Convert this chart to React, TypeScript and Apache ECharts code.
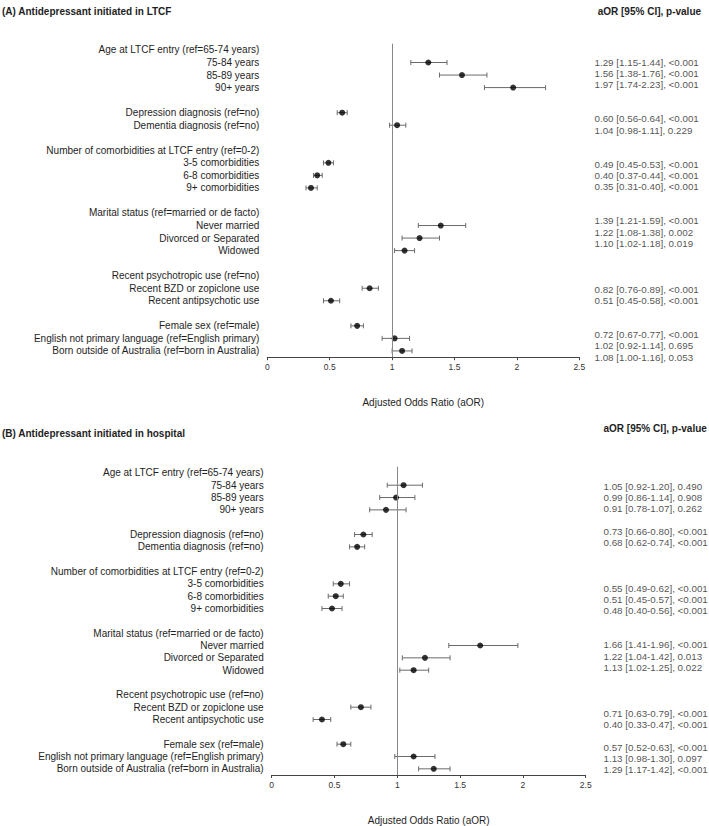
import React, { useEffect, useRef } from "react";
import * as echarts from "echarts";

const FONT = "'Liberation Sans', Arial, Helvetica, sans-serif";

const rowLabels: string[] = [
  "Age at LTCF entry (ref=65-74 years)",
  "75-84 years",
  "85-89 years",
  "90+ years",
  "",
  "Depression diagnosis (ref=no)",
  "Dementia diagnosis (ref=no)",
  "",
  "Number of comorbidities at LTCF entry (ref=0-2)",
  "3-5 comorbidities",
  "6-8 comorbidities",
  "9+ comorbidities",
  "",
  "Marital status (ref=married or de facto)",
  "Never married",
  "Divorced or Separated",
  "Widowed",
  "",
  "Recent psychotropic use (ref=no)",
  "Recent BZD or zopiclone use",
  "Recent antipsychotic use",
  "",
  "Female sex (ref=male)",
  "English not primary language (ref=English primary)",
  "Born outside of Australia (ref=born in Australia)",
];

const estimateRows: number[] = [1, 2, 3, 5, 6, 9, 10, 11, 14, 15, 16, 19, 20, 22, 23, 24];

const xTicks: number[] = [0, 0.5, 1, 1.5, 2, 2.5];

// Panel A: initiated in LTCF
const aorA: number[] = [1.29, 1.56, 1.97, 0.6, 1.04, 0.49, 0.4, 0.35, 1.39, 1.22, 1.1, 0.82, 0.51, 0.72, 1.02, 1.08];
const loA: number[] = [1.15, 1.38, 1.74, 0.56, 0.98, 0.45, 0.37, 0.31, 1.21, 1.08, 1.02, 0.76, 0.45, 0.67, 0.92, 1.0];
const hiA: number[] = [1.44, 1.76, 2.23, 0.64, 1.11, 0.53, 0.44, 0.4, 1.59, 1.38, 1.18, 0.89, 0.58, 0.77, 1.14, 1.16];
const pA: string[] = ["<0.001", "<0.001", "<0.001", "<0.001", "0.229", "<0.001", "<0.001", "<0.001", "<0.001", "0.002", "0.019", "<0.001", "<0.001", "<0.001", "0.695", "0.053"];
const tableRowsA: number[] = [0, 1, 2, 5, 6, 9, 10, 11, 14, 15, 16, 20, 21, 24, 25, 26];

// Panel B: initiated in hospital
const aorB: number[] = [1.05, 0.99, 0.91, 0.73, 0.68, 0.55, 0.51, 0.48, 1.66, 1.22, 1.13, 0.71, 0.4, 0.57, 1.13, 1.29];
const loB: number[] = [0.92, 0.86, 0.78, 0.66, 0.62, 0.49, 0.45, 0.4, 1.41, 1.04, 1.02, 0.63, 0.33, 0.52, 0.98, 1.17];
const hiB: number[] = [1.2, 1.14, 1.07, 0.8, 0.74, 0.62, 0.57, 0.56, 1.96, 1.42, 1.25, 0.79, 0.47, 0.63, 1.3, 1.42];
const pB: string[] = ["0.490", "0.908", "0.262", "<0.001", "<0.001", "<0.001", "<0.001", "<0.001", "<0.001", "0.013", "0.022", "<0.001", "<0.001", "<0.001", "0.097", "<0.001"];
const tableRowsB: number[] = [0, 1, 2, 4, 5, 9, 10, 11, 14, 15, 16, 20, 21, 23, 24, 25];

const titleA = "(A) Antidepressant initiated in LTCF";
const titleB = "(B) Antidepressant initiated in hospital";
const tableHeader = "aOR [95% CI], p-value";
const axisTitle = "Adjusted Odds Ratio (aOR)";

const TEXT = "#1e1e1e";

function fmt(or: number[], lo: number[], hi: number[], p: string[]): string[] {
  return or.map((v, i) => `${v.toFixed(2)} [${lo[i].toFixed(2)}-${hi[i].toFixed(2)}], ${p[i]}`);
}

function panelAxes(gi: number) {
  const plotX = {
    gridIndex: gi,
    type: "value",
    min: xTicks[0],
    max: xTicks[xTicks.length - 1],
    interval: 0.5,
    axisLine: { show: true, lineStyle: { color: "#444", width: 1 } },
    axisTick: { show: true, length: 3, lineStyle: { color: "#444" } },
    splitLine: { show: false },
    axisLabel: { fontSize: 8.5, color: "#333", margin: 5, fontFamily: FONT },
    name: axisTitle,
    nameLocation: "middle",
    nameGap: 40,
    nameTextStyle: { fontSize: 10, color: TEXT, fontFamily: FONT },
  };
  const plotY = {
    gridIndex: gi,
    type: "category",
    data: rowLabels,
    inverse: true,
    axisLine: { show: false },
    axisTick: { show: false },
    splitLine: { show: false },
    axisLabel: { interval: 0, fontSize: 10, color: TEXT, margin: 8, fontFamily: FONT },
  };
  const tabX = { gridIndex: gi + 1, type: "value", min: 0, max: 1, show: false };
  const tabY = { gridIndex: gi + 1, type: "value", min: 0, max: 26, inverse: true, show: false };
  return { x: [plotX, tabX], y: [plotY, tabY] };
}

function panelSeries(
  axisBase: number,
  or: number[],
  lo: number[],
  hi: number[],
  p: string[],
  tableRows: number[]
) {
  const texts = fmt(or, lo, hi, p);
  return [
    {
      type: "custom",
      xAxisIndex: axisBase,
      yAxisIndex: axisBase,
      encode: { x: [0, 1], y: 2 },
      data: estimateRows.map((r, i) => [lo[i], hi[i], r]),
      renderItem: (_params: any, api: any) => {
        const row = api.value(2);
        const p1 = api.coord([api.value(0), row]);
        const p2 = api.coord([api.value(1), row]);
        const c = 2.5;
        const style = { stroke: "#6a6a6a", lineWidth: 1 };
        return {
          type: "group",
          children: [
            { type: "line", shape: { x1: p1[0], y1: p1[1], x2: p2[0], y2: p2[1] }, style },
            { type: "line", shape: { x1: p1[0], y1: p1[1] - c, x2: p1[0], y2: p1[1] + c }, style },
            { type: "line", shape: { x1: p2[0], y1: p2[1] - c, x2: p2[0], y2: p2[1] + c }, style },
          ],
        };
      },
      z: 2,
    },
    {
      type: "scatter",
      xAxisIndex: axisBase,
      yAxisIndex: axisBase,
      data: estimateRows.map((r, i) => [or[i], r]),
      symbol: "circle",
      symbolSize: 6,
      itemStyle: { color: "#000" },
      z: 3,
      markLine: {
        silent: true,
        symbol: ["none", "none"],
        label: { show: false },
        lineStyle: { color: "#888", type: "solid", width: 1 },
        data: [{ xAxis: 1 }],
      },
    },
    {
      type: "scatter",
      xAxisIndex: axisBase + 1,
      yAxisIndex: axisBase + 1,
      data: tableRows.map((r) => [0, r]),
      symbolSize: 1,
      itemStyle: { color: "rgba(0,0,0,0)" },
      label: {
        show: true,
        position: "right",
        distance: 0,
        formatter: (prm: any) => texts[prm.dataIndex],
        fontSize: 9.8,
        color: TEXT,
        fontFamily: FONT,
      },
    },
  ];
}

export default function App() {
  const ref = useRef<HTMLDivElement>(null);
  useEffect(() => {
    if (!ref.current) return;
    const chart = echarts.init(ref.current, undefined, { renderer: "svg" });
    const a = panelAxes(0);
    const b = panelAxes(2);
    const option: any = {
      animation: false,
      backgroundColor: "#fff",
      textStyle: { fontFamily: FONT },
      grid: [
        { left: 267.3, top: 43.7, width: 312, height: 313.5 },
        { left: 594, top: 62, width: 100, height: 295.1 },
        { left: 271.7, top: 466.7, width: 314, height: 313.5 },
        { left: 603, top: 486, width: 100, height: 295.1 },
      ],
      xAxis: [...a.x, ...b.x],
      yAxis: [...a.y, ...b.y],
      series: [
        ...panelSeries(0, aorA, loA, hiA, pA, tableRowsA),
        ...panelSeries(2, aorB, loB, hiB, pB, tableRowsB),
      ],
      graphic: [
        { type: "text", x: 2, y: 11, style: { text: titleA, font: `bold 10px ${FONT}`, fill: TEXT, verticalAlign: "middle" } },
        { type: "text", x: 597.7, y: 11, style: { text: tableHeader, font: `bold 10px ${FONT}`, fill: TEXT, verticalAlign: "middle" } },
        { type: "text", x: 2, y: 433, style: { text: titleB, font: `bold 10px ${FONT}`, fill: TEXT, verticalAlign: "middle" } },
        { type: "text", x: 603.5, y: 428, style: { text: tableHeader, font: `bold 10px ${FONT}`, fill: TEXT, verticalAlign: "middle" } },
      ],
    };
    chart.setOption(option);
    return () => chart.dispose();
  }, []);
  return (
    <div
      ref={ref}
      style={{ position: "absolute", left: 0, top: 0, width: 709, height: 826, background: "#fff" }}
    />
  );
}
